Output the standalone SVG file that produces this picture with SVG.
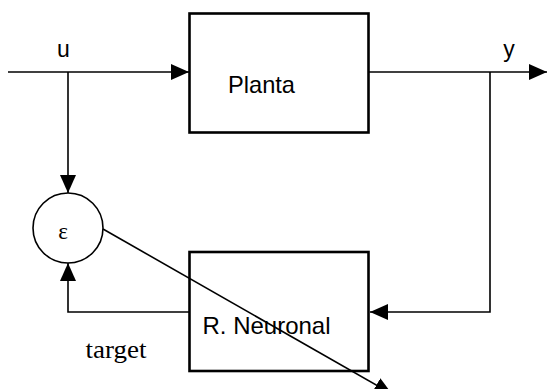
<svg xmlns="http://www.w3.org/2000/svg" width="547" height="389" viewBox="0 0 547 389">
<style>
.box{fill:#fff;stroke:#000;stroke-width:2.6}
.ln{fill:none;stroke:#000;stroke-width:1.6}
.sans{font-family:"Liberation Sans",Arial,sans-serif;fill:#000}
.serif{font-family:"Liberation Serif","Times New Roman",serif;fill:#000}
</style>
<defs>
<marker id="ah" viewBox="0 0 18 16" refX="18" refY="8" markerWidth="18" markerHeight="16" markerUnits="userSpaceOnUse" orient="auto">
<path d="M0,0 L18,8 L0,16 Z" fill="#000"/>
</marker>
</defs>
<rect width="547" height="389" fill="#fff"/>
<g id="connectors">
<path class="ln" d="M8,72 H189" marker-end="url(#ah)"/>
<path class="ln" d="M368,72 H547" marker-end="url(#ah)"/>
<path class="ln" d="M68,72 V193" marker-end="url(#ah)"/>
<path class="ln" d="M490,72 V312 H370" marker-end="url(#ah)"/>
<path class="ln" d="M189,312 H68 V263" marker-end="url(#ah)"/>
<path class="ln" d="M103,229 L392,394" marker-end="url(#ah)"/>
</g>
<g id="planta">
<rect class="box" x="189.5" y="13.5" width="179" height="119"/>
<text class="sans" x="228" y="93" font-size="24" textLength="67" lengthAdjust="spacingAndGlyphs">Planta</text>
</g>
<g id="neuronal">
<rect class="box" x="189.5" y="252" width="179" height="119" style="fill:none"/>
<text class="sans" x="202.5" y="334" font-size="24" textLength="128" lengthAdjust="spacingAndGlyphs">R. Neuronal</text>
</g>
<g id="sum">
<circle cx="68" cy="228" r="35" fill="#fff" stroke="#000" stroke-width="1.6"/>
<text class="serif" x="63" y="239" font-size="23" text-anchor="middle">ε</text>
</g>
<g id="labels">
<text class="sans" x="63.5" y="57" font-size="23" text-anchor="middle">u</text>
<text class="sans" x="509" y="57" font-size="23" text-anchor="middle">y</text>
<text class="serif" x="85.5" y="358" font-size="26" textLength="61" lengthAdjust="spacingAndGlyphs">target</text>
</g>
</svg>
